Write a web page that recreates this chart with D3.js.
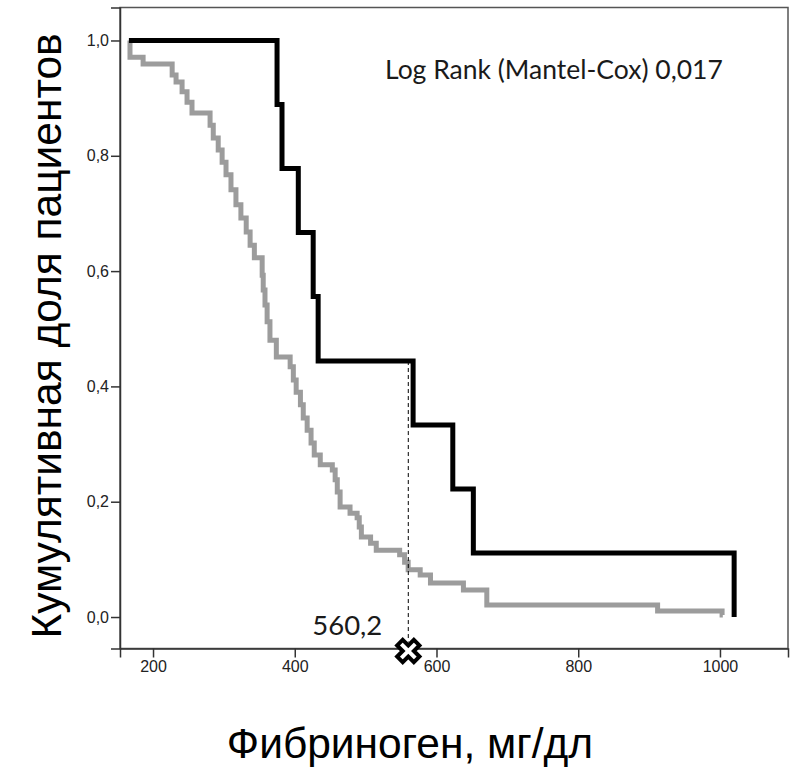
<!DOCTYPE html>
<html>
<head>
<meta charset="utf-8">
<script src="https://cdn.jsdelivr.net/npm/d3@7"></script>
<style>
body { margin: 0; background: #fff; }
</style>
</head>
<body>
<div id="chart"></div>
<script>
// step curves: [fibrinogen, cumulative share after the drop]
var blackSteps = [
  [166, 1.0], [375, 0.889], [382, 0.778], [405, 0.667], [426, 0.556],
  [433, 0.444], [567, 0.333], [623, 0.222], [652, 0.111], [1020, 0.0]
];
var blackEnd = 1020;

var graySteps = [
  [166, 1.0], [167.5, 0.971], [186, 0.959], [227, 0.940], [232.5, 0.928],
  [241, 0.911], [248, 0.893], [255, 0.874], [280.5, 0.853], [285, 0.831],
  [292, 0.810], [297.5, 0.789], [303, 0.767], [310, 0.741], [317, 0.715],
  [324, 0.692], [331.5, 0.668], [337, 0.645], [343, 0.623], [354, 0.593],
  [355.5, 0.567], [358, 0.541], [361, 0.512], [365, 0.480], [374, 0.451],
  [393.5, 0.434], [398, 0.411], [402, 0.390], [408, 0.368], [412, 0.345],
  [417.5, 0.324], [423, 0.302], [427.5, 0.281], [436, 0.264], [453, 0.255],
  [457, 0.238], [460, 0.217], [464, 0.191], [478, 0.180], [488, 0.172],
  [491, 0.156], [494, 0.139], [507, 0.128], [515, 0.116], [548, 0.108],
  [555, 0.095], [560, 0.082], [577, 0.073], [591.5, 0.059], [638, 0.047],
  [671, 0.021], [912, 0.0104], [1003, 0.0035]
];
var grayEnd = 1004;

var xTicks = [200, 400, 600, 800, 1000];
var yTicks = [0, 0.2, 0.4, 0.6, 0.8, 1.0];

var medianX = 560.2;
var medianY = 0.444;
var medianLabel = "560,2";
var testLabel = "Log Rank (Mantel-Cox) 0,017";
var yTitle = "Кумулятивная доля пациентов";
var xTitle = "Фибриноген, мг/дл";

var margin = {top: 7.5, right: 7, bottom: 119.5, left: 120},
    width = 795 - margin.left - margin.right,
    height = 768 - margin.top - margin.bottom;

var svg = d3.select("#chart")
    .append("svg")
        .attr("width", 795)
        .attr("height", 768)
    .append("g")
        .attr("transform", "translate(" + margin.left + "," + margin.top + ")");

var x = d3.scaleLinear()
    .domain([153.4, 1096])
    .range([0, width]);

var y = d3.scaleLinear()
    .domain([-0.0546, 1.0572])
    .range([height, 0]);

// frame
svg.append("rect")
    .attr("x", 0).attr("y", 0)
    .attr("width", width).attr("height", height)
    .attr("fill", "none")
    .attr("stroke", "#555")
    .attr("stroke-width", 1.5);

// X axis
var xAxis = svg.append("g")
    .attr("transform", "translate(0," + height + ")")
    .call(d3.axisBottom(x).tickValues(xTicks).tickSize(9).tickPadding(3).tickFormat(d3.format("d")));

// Y axis
var yAxis = svg.append("g")
    .call(d3.axisLeft(y).tickValues(yTicks).tickSize(9).tickPadding(2)
        .tickFormat(function(d) { return d.toFixed(1).replace(".", ","); }));

[xAxis, yAxis].forEach(function(a) {
    a.select(".domain").attr("stroke", "#333").attr("stroke-width", 1.5);
    a.selectAll(".tick line").attr("stroke", "#333").attr("stroke-width", 1.5);
    a.selectAll(".tick text")
        .attr("fill", "#222")
        .style("font-family", "Liberation Sans, Arial, sans-serif")
        .style("font-size", "16px");
});

var line = d3.line()
    .x(function(d) { return x(d[0]); })
    .y(function(d) { return y(d[1]); })
    .curve(d3.curveStepAfter);

svg.append("path")
    .datum(graySteps.concat([[grayEnd, graySteps[graySteps.length - 1][1]]]))
    .attr("d", line)
    .attr("fill", "none")
    .attr("stroke", "#9c9c9c")
    .attr("stroke-width", 5);

svg.append("path")
    .datum(blackSteps.concat([[blackEnd, blackSteps[blackSteps.length - 1][1]]]))
    .attr("d", line)
    .attr("fill", "none")
    .attr("stroke", "#000")
    .attr("stroke-width", 5);

// median marker
svg.append("line")
    .attr("x1", x(medianX)).attr("x2", x(medianX))
    .attr("y1", y(medianY)).attr("y2", height - 7)
    .attr("stroke", "#000")
    .attr("stroke-width", 1)
    .attr("stroke-dasharray", "4,3");

svg.append("path")
    .attr("d", d3.symbol().type(d3.symbolCross).size(310))
    .attr("transform", "translate(" + x(medianX) + "," + (height + 2.5) + ") rotate(45)")
    .attr("fill", "#fff")
    .attr("stroke", "#000")
    .attr("stroke-width", 4)
    .attr("stroke-linejoin", "miter");

svg.append("text")
    .attr("x", x(medianX) - 26)
    .attr("y", 627)
    .attr("text-anchor", "end")
    .attr("fill", "#1a1a1a")
    .style("font-family", "Lato, sans-serif")
    .style("font-size", "27.5px")
    .text(medianLabel);

svg.append("text")
    .attr("x", 265)
    .attr("y", 71.5)
    .attr("fill", "#1a1a1a")
    .style("font-family", "Lato, sans-serif")
    .style("font-size", "26.5px")
    .text(testLabel);

// axis titles
d3.select("svg").append("text")
    .attr("transform", "translate(61,336) rotate(-90)")
    .attr("text-anchor", "middle")
    .attr("fill", "#000")
    .style("font-family", "Liberation Sans, Arial, sans-serif")
    .style("font-size", "42.5px")
    .text(yTitle);

d3.select("svg").append("text")
    .attr("x", 410)
    .attr("y", 758)
    .attr("text-anchor", "middle")
    .attr("fill", "#000")
    .style("font-family", "Liberation Sans, Arial, sans-serif")
    .style("font-size", "42.5px")
    .text(xTitle);
</script>
</body>
</html>
